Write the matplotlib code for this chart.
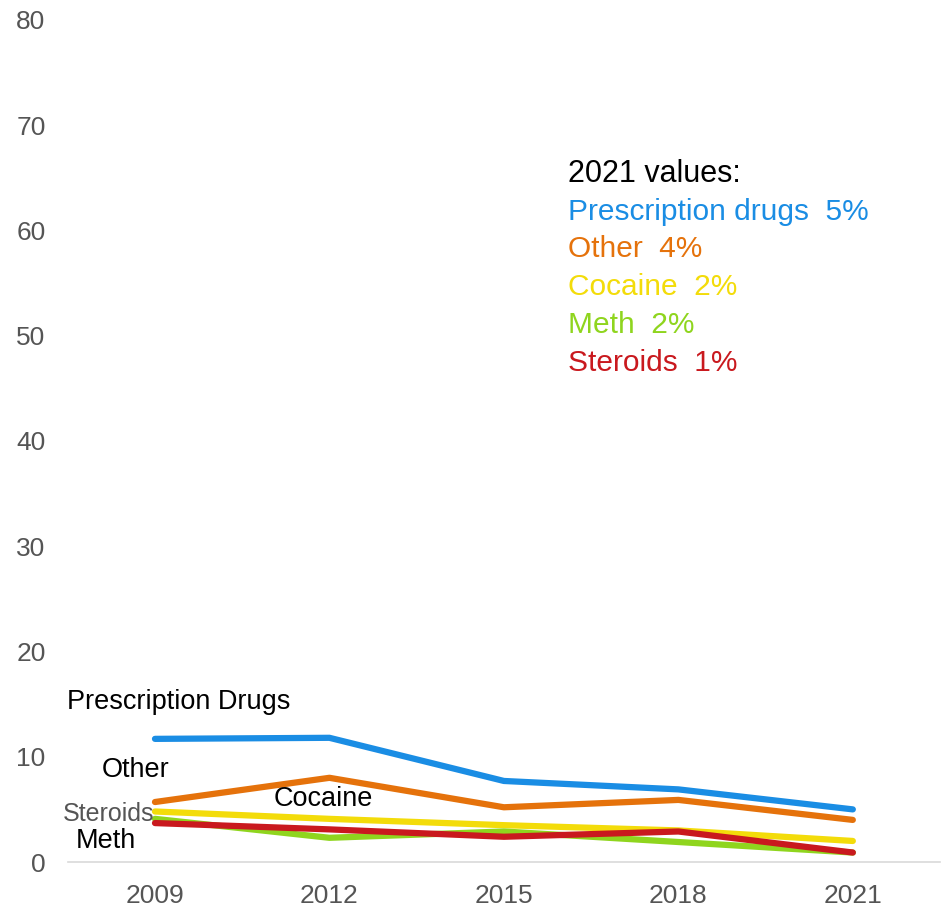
import matplotlib.pyplot as plt

plt.rcParams["font.family"] = ["Liberation Sans", "DejaVu Sans"]

years = [2009, 2012, 2015, 2018, 2021]
prescription = [11.7, 11.8, 7.7, 6.9, 5.0]
other = [5.7, 8.0, 5.2, 5.9, 4.0]
cocaine = [4.8, 4.1, 3.5, 3.0, 2.0]
meth = [4.1, 2.3, 2.9, 1.9, 0.9]
steroids = [3.7, 3.1, 2.4, 2.9, 0.9]

series_names = ["Prescription drugs", "Other", "Cocaine", "Meth", "Steroids"]
series_values = [prescription, other, cocaine, meth, steroids]
series_colors = ["#1a8de4", "#e5720b", "#f3dc0a", "#8fd51e", "#c9191e"]
latest_labels = ["5%", "4%", "2%", "2%", "1%"]

fig = plt.figure(figsize=(9.41, 9.07), dpi=100)
ax = fig.add_axes([0.072, 0.0496, 0.927, 0.9284])

for vals, color in zip(series_values, series_colors):
    ax.plot(years, vals, color=color, linewidth=4.5, solid_capstyle="round",
            solid_joinstyle="round")

ax.set_xlim(2007.5, 2022.5)
ax.set_ylim(0, 80)
ax.set_xticks(years)
ax.set_yticks(range(0, 81, 10))
ax.tick_params(axis="both", length=0, labelsize=19, labelcolor="#555555")
ax.tick_params(axis="y", pad=16)
ax.tick_params(axis="x", pad=16)
for side in ["top", "right", "left"]:
    ax.spines[side].set_visible(False)
ax.spines["bottom"].set_color("#d9d9d9")
ax.spines["bottom"].set_linewidth(1.2)

# line labels on the left
ax.text(2007.49, 15.2, "Prescription Drugs", fontsize=19.5, va="center", ha="left")
ax.text(2008.09, 8.7, "Other", fontsize=19.5, va="center", ha="left")
ax.text(2007.42, 4.6, "Steroids", fontsize=18, color="#555555", va="center", ha="left")
ax.text(2007.63, 2.0, "Meth", fontsize=19.5, va="center", ha="left")
ax.text(2011.04, 6.0, "Cocaine", fontsize=19.5, va="center", ha="left")

# 2021 values block
ax.text(2016.1, 65.4, "2021 values:", fontsize=22, va="center", ha="left",
        fontweight="medium")
for i, (name, color, lab) in enumerate(zip(series_names, series_colors, latest_labels)):
    ax.text(2016.1, 61.8 - i * 3.6, f"{name}  {lab}", fontsize=21.5, color=color,
            va="center", ha="left")

plt.savefig("out.png", dpi=100)
plt.close()
